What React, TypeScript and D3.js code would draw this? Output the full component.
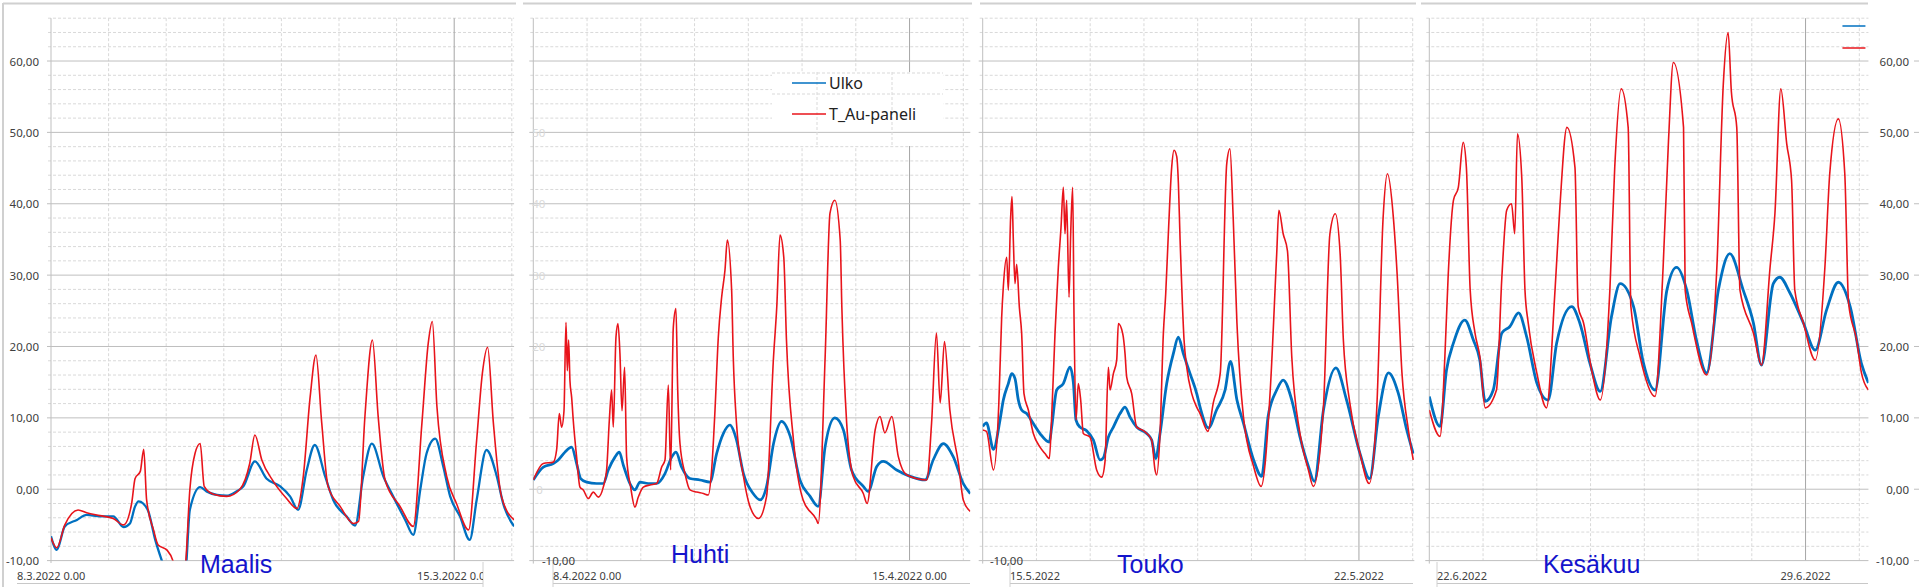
import * as d3 from "d3";

type Pt = [number, number]; // [days from panel start, °C]

// Maalis, from 8.3.2022 0.00
const maalisUlko: Pt[] = [
  [0, -6.6], [0.1, -8.5], [0.24, -5.2], [0.45, -4.3], [0.62, -3.6], [0.85, -3.8], [1.08, -3.8], [1.26, -5.3],
  [1.37, -4.8], [1.46, -2.4], [1.52, -1.7], [1.6, -2.0], [1.69, -3.1], [1.81, -7.1], [1.92, -9.9], [2.12, -14],
  [2.33, -12], [2.41, -2.9], [2.59, 0.3], [2.7, -0.3], [2.88, -0.8], [3.05, -0.9], [3.22, -0.3], [3.34, 0.4],
  [3.54, 3.9], [3.74, 1.5], [3.98, 0.4], [4.15, -1.0], [4.29, -2.9], [4.44, 2.7], [4.58, 6.2], [4.76, 1.8],
  [4.9, -1.5], [5.13, -3.8], [5.28, -5.1], [5.42, 1.8], [5.57, 6.4], [5.77, 1.8], [5.94, -1.0], [6.15, -4.3],
  [6.29, -6.4], [6.41, -0.1], [6.52, 5.0], [6.67, 7.1], [6.81, 3.2], [6.93, -1.0], [7.1, -3.8], [7.27, -7.1],
  [7.39, -1.5], [7.56, 5.5], [7.74, 1.8], [7.85, -2.0], [8.04, -5.2],
];
const maalisPaneli: Pt[] = [
  [0, -6.8], [0.1, -8.2], [0.24, -5.0], [0.47, -2.9], [0.62, -3.3], [0.85, -3.7], [1.08, -4.1], [1.26, -5.0],
  [1.4, -2.0], [1.46, 1.5], [1.55, 2.5], [1.61, 5.6], [1.66, -1.5], [1.78, -5.7], [1.86, -7.8], [2.01, -8.5],
  [2.12, -10.1], [2.22, -14], [2.33, -11], [2.41, -0.1], [2.5, 5.0], [2.59, 6.4], [2.66, 0.4], [2.82, -0.7],
  [3.05, -1.0], [3.28, 0.0], [3.45, 3.6], [3.54, 7.6], [3.66, 4.1], [3.86, 1.1], [4.09, -1.3], [4.27, -2.7],
  [4.38, 1.8], [4.5, 13.0], [4.6, 18.8], [4.7, 9.3], [4.81, 0.4], [5.02, -2.4], [5.25, -4.8], [5.34, -4.5],
  [5.45, 10.2], [5.58, 20.9], [5.68, 10.2], [5.8, 1.3], [6.06, -2.4], [6.29, -5.2], [6.44, 9.3], [6.55, 20.5],
  [6.62, 23.5], [6.7, 11.6], [6.87, 1.8], [7.04, -2.0], [7.25, -5.7], [7.39, 6.9], [7.49, 16.3], [7.58, 19.9],
  [7.68, 9.3], [7.82, -1.0], [8.04, -4.3],
];

// Huhti, from 8.4.2022 0.00
const huhtiUlko: Pt[] = [
  [0, 1.3], [0.186, 3.1], [0.372, 3.6], [0.465, 4.1], [0.589, 5.2], [0.713, 5.9], [0.806, 3.6], [0.881, 1.5],
  [0.992, 1.0], [1.178, 0.8], [1.302, 0.8], [1.395, 2.7], [1.519, 4.5], [1.6, 5.2], [1.674, 3.4], [1.798, 0.8],
  [1.891, -0.1], [1.984, 1.0], [2.14, 0.8], [2.295, 0.8], [2.45, 2.2], [2.574, 4.5], [2.654, 5.2], [2.76, 3.1],
  [2.915, 1.5], [3.101, 1.3], [3.287, 1.0], [3.411, 5.0], [3.535, 7.8], [3.659, 9.0], [3.721, 8.3], [3.78, 6.9],
  [3.91, 2.2], [4.09, -0.6], [4.22, -1.5], [4.34, 0.4], [4.47, 6.4], [4.62, 9.5], [4.78, 7.4], [4.96, 1.3],
  [5.15, -1.0], [5.3, -2.4], [5.43, 6.0], [5.61, 10.0], [5.77, 8.3], [5.92, 2.7], [6.14, 0.4], [6.23, -0.3],
  [6.39, 3.2], [6.51, 3.9], [6.76, 2.7], [7.01, 1.8], [7.29, 1.3], [7.44, 4.1], [7.63, 6.4], [7.81, 4.6],
  [8.0, 0.8], [8.13, -0.6],
];
const huhtiPaneli: Pt[] = [
  [0, 1.3], [0.186, 3.6], [0.372, 3.8], [0.434, 5.5], [0.484, 10.6], [0.527, 8.7], [0.571, 11.0], [0.608, 23.4],
  [0.633, 16.6], [0.657, 20.9], [0.682, 15.2], [0.713, 12.9], [0.744, 9.6], [0.806, 4.5], [0.868, 0.3], [0.93, -0.1],
  [1.023, -1.3], [1.116, -0.4], [1.209, -1.1], [1.302, 0.3], [1.364, 2.7], [1.414, 9.6], [1.457, 13.9], [1.488, 8.7],
  [1.538, 21.3], [1.575, 23.2], [1.612, 19.0], [1.65, 11.0], [1.699, 17.1], [1.736, 4.5], [1.811, 0.3], [1.891, -2.5],
  [1.953, -1.1], [2.047, 0.3], [2.171, 0.6], [2.295, 0.8], [2.388, 3.1], [2.45, 4.1], [2.512, 14.6], [2.555, 2.7],
  [2.605, 22.7], [2.654, 25.3], [2.685, 14.4], [2.729, 6.4], [2.822, 2.2], [2.915, -0.1], [3.039, -0.4], [3.163, -0.6],
  [3.256, -0.8], [3.318, 2.7], [3.38, 11.0], [3.442, 21.3], [3.504, 26.9], [3.566, 30.7], [3.61, 34.9], [3.69, 27.9],
  [3.72, 18.6], [3.78, 9.3], [3.91, 1.8], [4.03, -2.4], [4.19, -4.1], [4.34, -1.0], [4.47, 18.6], [4.53, 25.6],
  [4.59, 35.6], [4.66, 32.5], [4.71, 20.9], [4.84, 6.9], [5.02, -1.5], [5.27, -4.3], [5.3, -4.8], [5.43, 18.6],
  [5.52, 38.7], [5.61, 40.5], [5.71, 34.9], [5.74, 25.6], [5.83, 9.3], [5.95, 1.8], [6.14, -0.6], [6.21, -2.0],
  [6.36, 8.3], [6.45, 10.2], [6.54, 7.9], [6.67, 10.2], [6.79, 4.6], [6.95, 2.0], [7.32, 1.3], [7.41, 9.3],
  [7.5, 21.9], [7.57, 12.1], [7.65, 20.7], [7.75, 11.1], [7.91, 3.6], [8.0, -1.5], [8.13, -3.1],
];

// Touko, from 15.5.2022
const toukoUlko: Pt[] = [
  [0, 8.8], [0.07, 9.3], [0.2, 5.6], [0.322, 9.7], [0.384, 12.5], [0.477, 14.8], [0.539, 16.2], [0.601, 15.5],
  [0.663, 12.5], [0.725, 11.1], [0.818, 10.6], [0.942, 9.2], [1.066, 7.8], [1.24, 6.6], [1.283, 8.7], [1.376, 13.9],
  [1.5, 14.8], [1.624, 17.1], [1.686, 15.0], [1.736, 9.7], [1.81, 8.7], [1.934, 8.2], [2.059, 6.9], [2.183, 4.1],
  [2.245, 4.4], [2.338, 7.3], [2.431, 8.7], [2.555, 10.6], [2.648, 11.5], [2.741, 10.1], [2.865, 8.7], [3.051, 7.8],
  [3.144, 6.9], [3.219, 4.3], [3.299, 7.8], [3.423, 14.8], [3.547, 19.0], [3.64, 21.3], [3.733, 19.0], [3.858, 16.2],
  [3.982, 13.4], [4.044, 11.5], [4.2, 8.6], [4.35, 11.1], [4.51, 13.9], [4.61, 17.9], [4.73, 12.5], [4.85, 9.3],
  [5.04, 4.1], [5.19, 1.8], [5.31, 10.2], [5.47, 13.9], [5.59, 15.3], [5.75, 12.5], [5.9, 7.4], [6.06, 3.2],
  [6.17, 1.1], [6.34, 11.1], [6.57, 17.0], [6.77, 12.5], [7.02, 5.0], [7.2, 1.5], [7.36, 10.2], [7.55, 16.3],
  [7.73, 13.5], [7.89, 8.3], [8.01, 5.0],
];
const toukoPaneli: Pt[] = [
  [0, 8.3], [0.07, 8.1], [0.2, 2.7], [0.3, 12.0], [0.353, 24.1], [0.384, 28.4], [0.446, 32.5], [0.477, 27.9],
  [0.52, 38.1], [0.545, 41.0], [0.57, 34.9], [0.601, 28.8], [0.632, 31.5], [0.682, 25.5], [0.725, 21.8], [0.768, 13.4],
  [0.849, 11.1], [0.942, 7.8], [1.066, 5.9], [1.159, 5.0], [1.24, 4.3], [1.283, 10.1], [1.345, 21.8], [1.407, 31.1],
  [1.457, 36.7], [1.5, 42.3], [1.531, 35.8], [1.562, 40.5], [1.606, 26.9], [1.637, 35.8], [1.674, 42.3], [1.699, 24.1],
  [1.736, 9.7], [1.779, 14.8], [1.823, 12.5], [1.872, 7.8], [1.997, 7.3], [2.12, 2.7], [2.214, 1.7], [2.276, 3.9],
  [2.338, 17.1], [2.369, 13.9], [2.431, 16.2], [2.493, 18.1], [2.524, 23.2], [2.605, 21.8], [2.648, 19.0], [2.679, 15.7],
  [2.772, 13.4], [2.865, 8.7], [2.989, 8.2], [3.144, 6.9], [3.206, 2.7], [3.237, 2.0], [3.299, 7.8], [3.361, 21.8],
  [3.405, 27.4], [3.454, 35.8], [3.516, 45.1], [3.56, 47.5], [3.61, 46.6], [3.641, 42.8], [3.672, 35.0], [3.703, 28.4],
  [3.746, 20.9], [3.796, 17.1], [3.889, 13.4], [3.982, 11.5], [4.044, 10.6], [4.19, 8.1], [4.29, 12.1], [4.42, 16.3],
  [4.54, 45.6], [4.6, 47.7], [4.66, 38.1], [4.73, 23.3], [4.85, 10.2], [5.04, 3.2], [5.18, 0.4], [5.35, 13.9],
  [5.47, 33.0], [5.51, 39.1], [5.59, 35.8], [5.67, 33.4], [5.75, 18.6], [5.9, 7.9], [6.06, 2.7], [6.15, 0.4],
  [6.34, 11.6], [6.46, 35.8], [6.56, 38.6], [6.65, 33.0], [6.71, 20.9], [6.83, 12.1], [7.02, 5.0], [7.19, 0.8],
  [7.33, 11.1], [7.45, 38.1], [7.53, 44.2], [7.64, 38.1], [7.71, 30.2], [7.8, 16.3], [7.92, 8.3], [8.01, 4.1],
];

// Kesäkuu, from 22.6.2022
const kesakuuUlko: Pt[] = [
  [0, 13.0], [0.2, 8.8], [0.32, 16.7], [0.45, 20.5], [0.66, 23.7], [0.82, 20.9], [0.94, 18.1], [1.04, 12.3],
  [1.19, 13.9], [1.35, 21.9], [1.5, 22.8], [1.66, 24.7], [1.81, 21.4], [2.0, 14.9], [2.21, 12.5], [2.37, 20.5],
  [2.65, 25.6], [2.8, 23.3], [2.99, 17.6], [3.18, 13.7], [3.39, 24.2], [3.55, 28.8], [3.8, 25.6], [3.98, 17.8],
  [4.2, 13.9], [4.42, 27.9], [4.6, 31.1], [4.79, 27.9], [4.97, 20.9], [5.16, 16.3], [5.38, 28.0], [5.59, 33.0],
  [5.84, 27.9], [6.03, 23.3], [6.18, 17.4], [6.4, 28.8], [6.52, 29.7], [6.71, 27.5], [6.96, 23.3], [7.18, 19.5],
  [7.39, 25.1], [7.61, 29.0], [7.83, 25.6], [8.04, 17.6], [8.17, 14.9],
];
const kesakuuPaneli: Pt[] = [
  [0, 11.1], [0.2, 7.4], [0.29, 18.6], [0.35, 29.7], [0.45, 40.5], [0.54, 42.3], [0.63, 48.6], [0.69, 45.1],
  [0.76, 28.0], [0.85, 21.9], [0.94, 18.6], [1.04, 11.4], [1.25, 13.9], [1.35, 29.7], [1.44, 39.1], [1.53, 40.0],
  [1.59, 35.8], [1.64, 49.8], [1.72, 43.7], [1.78, 27.9], [1.84, 23.3], [2.0, 16.3], [2.18, 11.4], [2.34, 28.0],
  [2.43, 39.6], [2.56, 50.7], [2.71, 45.1], [2.77, 25.6], [2.87, 23.3], [3.02, 16.7], [3.18, 12.5], [3.36, 28.0],
  [3.45, 45.1], [3.57, 56.1], [3.7, 50.7], [3.75, 25.6], [3.92, 18.6], [4.2, 13.0], [4.35, 31.1], [4.45, 48.8],
  [4.54, 59.8], [4.73, 50.7], [4.76, 27.9], [4.88, 23.3], [5.16, 16.0], [5.35, 31.1], [5.47, 56.8], [5.56, 64.0],
  [5.62, 55.7], [5.72, 50.7], [5.78, 27.9], [6.03, 21.9], [6.18, 17.4], [6.34, 31.1], [6.43, 38.6], [6.54, 56.1],
  [6.65, 48.4], [6.74, 43.3], [6.8, 27.9], [6.96, 23.3], [7.18, 18.1], [7.36, 31.1], [7.45, 44.2], [7.61, 51.9],
  [7.73, 44.2], [7.8, 26.1], [7.95, 20.9], [8.04, 16.3], [8.17, 13.9],
];

const seriesNames = ["Ulko", "T_Au-paneli"];
const monthNames = ["Maalis", "Huhti", "Touko", "Kesäkuu"];
const startLabels = ["8.3.2022 0.00", "8.4.2022 0.00", "15.5.2022", "22.6.2022"];
const weekLabels = ["15.3.2022 0.00", "15.4.2022 0.00", "22.5.2022", "29.6.2022"];
const yMajor = [-10, 0, 10, 20, 30, 40, 50, 60];
const fadedTicks = [50, 40, 30, 20];

const FONT = "'Noto Sans', 'DejaVu Sans', sans-serif";
const BLUE = "#0070C0";
const RED = "#E8141B";
const TXT = "#404040";
const MAJOR = "#bfbfbf";
const MINOR = "#d9d9d9";

const y = d3.scaleLinear().domain([-10, 66]).range([560.6, 18.2]);
const yMinor = d3.range(-10, 67, 2);
const fmt = (v: number) => v.toFixed(2).replace(".", ",");

type Panel = {
  key: string;
  x0: number;
  dayW: number;
  days: number;
  ulko: Pt[];
  paneli: Pt[];
  m: number;
  nameX: number;
  nameY: number;
  boxL: number;
  boxR: number;
  topL: number;
  topR: number;
  blueW: number;
};

const panels: Panel[] = [
  { key: "mar", x0: 51, dayW: 57.6, days: 8.04, ulko: maalisUlko, paneli: maalisPaneli, m: 0, nameX: 200, nameY: 573, boxL: 17, boxR: 483, topL: 3, topR: 516, blueW: 2.3 },
  { key: "apr", x0: 533.3, dayW: 53.75, days: 8.13, ulko: huhtiUlko, paneli: huhtiPaneli, m: 1, nameX: 671, nameY: 563, boxL: 553, boxR: 970, topL: 523, topR: 972, blueW: 2.7 },
  { key: "may", x0: 982.7, dayW: 53.75, days: 8.03, ulko: toukoUlko, paneli: toukoPaneli, m: 2, nameX: 1117, nameY: 573, boxL: 1010, boxR: 1413, topL: 980, topR: 1416, blueW: 2.8 },
  { key: "jun", x0: 1429.3, dayW: 53.75, days: 8.17, ulko: kesakuuUlko, paneli: kesakuuPaneli, m: 3, nameX: 1543, nameY: 573, boxL: 1437, boxR: 1868, topL: 1421, topR: 1868, blueW: 2.8 },
];

function PanelView({ p }: { p: Panel }) {
  const x = d3.scaleLinear().domain([0, p.days]).range([p.x0, p.x0 + p.days * p.dayW]);
  const right = x(p.days);
  const line = d3.line<Pt>().x((d) => x(d[0])).y((d) => y(d[1])).curve(d3.curveMonotoneX);
  const days = d3.range(1, Math.floor(p.days) + 1);
  const top = y(66);
  const bottom = y(-10);
  return (
    <g>
      <defs>
        <clipPath id={`clip-${p.key}`}>
          <rect x={p.x0} y={top - 2} width={right - p.x0} height={bottom - top + 2} />
        </clipPath>
        <clipPath id={`lab-${p.key}`}>
          <rect x={p.boxL} y={562} width={p.boxR - p.boxL} height={25} />
        </clipPath>
      </defs>
      <line x1={p.topL} x2={p.topR} y1={3.5} y2={3.5} stroke="#d0d0d0" strokeWidth={2} />
      {yMinor.filter((v) => v % 10 !== 0).map((v) => (
        <line key={`n${v}`} x1={p.x0 - 3} x2={right} y1={y(v)} y2={y(v)} stroke={MINOR} strokeDasharray="3,2" />
      ))}
      {days.map((d) => (
        <line key={`d${d}`} x1={x(d)} x2={x(d)} y1={top} y2={bottom}
          stroke={d === 7 ? "#a6a6a6" : MINOR} strokeDasharray={d === 7 ? undefined : "3,2"} />
      ))}
      {yMajor.map((v) => (
        <line key={`j${v}`} x1={p.x0 - 4} x2={right} y1={y(v)} y2={y(v)} stroke={MAJOR} />
      ))}
      <line x1={p.x0} x2={p.x0} y1={top} y2={bottom + 3} stroke={MAJOR} />
      <g clipPath={`url(#clip-${p.key})`} fill="none" strokeLinejoin="round">
        <path d={line(p.ulko) ?? ""} stroke={BLUE} strokeWidth={p.blueW} />
        <path d={line(p.paneli) ?? ""} stroke={RED} strokeWidth={1.6} />
      </g>
      <rect x={p.boxL} y={563} width={p.boxR - p.boxL} height={20} fill="#fff" />
      <line x1={p.boxL} x2={p.boxR} y1={583.5} y2={583.5} stroke="#c8c8c8" />
      <line x1={p.m === 0 ? p.boxR : p.boxL} x2={p.m === 0 ? p.boxR : p.boxL} y1={562} y2={587} stroke="#d0d0d0" />
      <g clipPath={`url(#lab-${p.key})`} fontSize={11} fill={TXT}>
        <text x={p.boxL} y={580}>{startLabels[p.m]}</text>
        <text x={x(7)} y={580} textAnchor="middle">{weekLabels[p.m]}</text>
      </g>
      <text x={p.nameX} y={p.nameY} fontFamily="'Liberation Sans', Arial, sans-serif" fontSize={25} fill="#1414CC">
        {monthNames[p.m]}
      </text>
    </g>
  );
}

export default function App() {
  const p2 = panels[1];
  const p4 = panels[3];
  const x4 = d3.scaleLinear().domain([0, p4.days]).range([p4.x0, p4.x0 + p4.days * p4.dayW]);
  const r4 = x4(p4.days);
  return (
    <svg width={1920} height={587} viewBox="0 0 1920 587"
      style={{ position: "absolute", left: 0, top: 0, background: "#fff" }} fontFamily={FONT}>
      <rect width={1920} height={587} fill="#fff" />
      <line x1={3} x2={3} y1={3} y2={587} stroke="#d0d0d0" strokeWidth={2} />
      {panels.map((p) => <PanelView key={p.key} p={p} />)}

      {/* Maalis: left value axis */}
      <g fontSize={11.5} fill={TXT} textAnchor="end" dominantBaseline="central">
        {yMajor.map((v) => <text key={v} x={39} y={y(v)}>{fmt(v)}</text>)}
      </g>

      {/* Huhti: faded axis remnants and -10 label */}
      <g fontSize={11.5} fill="#dadada">
        {fadedTicks.map((v) => <text key={v} x={p2.x0 - 1} y={y(v)} dominantBaseline="central">{String(v)}</text>)}
        <text x={p2.x0 + 3} y={y(0)} dominantBaseline="central">0</text>
      </g>
      <text x={575} y={y(-10)} fontSize={11.5} fill={TXT} textAnchor="end" dominantBaseline="central">{fmt(-10)}</text>

      {/* Huhti legend */}
      <g>
        <rect x={772} y={72} width={171} height={74} fill="#fff" />
        <line x1={772} x2={943} y1={73} y2={73} stroke={MINOR} strokeDasharray="3,2" />
        <line x1={772} x2={943} y1={94} y2={94} stroke={MINOR} strokeDasharray="3,2" />
        <line x1={772} x2={943} y1={y(50)} y2={y(50)} stroke={MAJOR} />
        <line x1={817} x2={817} y1={72} y2={146} stroke={MINOR} strokeDasharray="3,2" />
        <line x1={892} x2={892} y1={72} y2={146} stroke={MINOR} strokeDasharray="3,2" />
        <line x1={792} x2={826} y1={83} y2={83} stroke={BLUE} strokeWidth={1.6} />
        <line x1={792} x2={826} y1={114} y2={114} stroke={RED} strokeWidth={1.6} />
        <text x={829} y={89} fontSize={16} fill="#222">{seriesNames[0]}</text>
        <text x={829} y={120} fontSize={16} fill="#222">{seriesNames[1]}</text>
      </g>

      {/* Touko -10 label */}
      <text x={1023} y={y(-10)} fontSize={11.5} fill={TXT} textAnchor="end" dominantBaseline="central">{fmt(-10)}</text>

      {/* Kesäkuu: right value axis and legend stubs */}
      <g fontSize={11.5} fill={TXT} textAnchor="end" dominantBaseline="central">
        {yMajor.map((v) => <text key={v} x={1909} y={y(v)}>{fmt(v)}</text>)}
      </g>
      {yMajor.map((v) => (
        <line key={`t${v}`} x1={1914} x2={1919} y1={y(v)} y2={y(v)} stroke={MAJOR} />
      ))}
      <line x1={r4 - 26} x2={r4 - 3} y1={26} y2={26} stroke={BLUE} strokeWidth={1.5} />
      <line x1={r4 - 26} x2={r4 - 3} y1={48} y2={48} stroke={RED} strokeWidth={1.5} />
    </svg>
  );
}
